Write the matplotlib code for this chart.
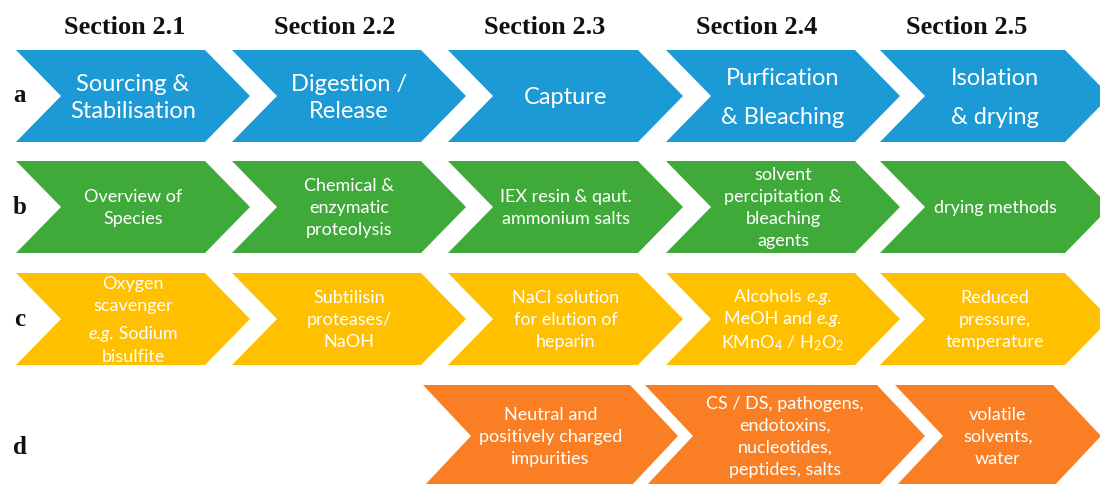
import matplotlib
matplotlib.use("Agg")
import matplotlib.pyplot as plt
from matplotlib.patches import Polygon
from matplotlib.offsetbox import TextArea, HPacker, AnnotationBbox

plt.rcParams['mathtext.fontset'] = 'custom'
plt.rcParams['mathtext.rm'] = 'Lato'
plt.rcParams['mathtext.it'] = 'Lato:italic'

# ---------------- data ----------------
sections = ["Section 2.1", "Section 2.2", "Section 2.3", "Section 2.4", "Section 2.5"]
row_labels = ["a", "b", "c", "d"]

# "\n\n" = paragraph gap, text between * * is italic
row_a = ["Sourcing &\nStabilisation", "Digestion /\nRelease", "Capture",
         "Purfication\n\n& Bleaching", "Isolation\n\n& drying"]
row_b = ["Overview of\nSpecies", "Chemical &\nenzymatic\nproteolysis",
         "IEX resin & qaut.\nammonium salts",
         "solvent\npercipitation &\nbleaching\nagents", "drying methods"]
row_c = ["Oxygen\nscavenger\n\n*e.g.* Sodium\nbisulfite",
         "Subtilisin\nproteases/\nNaOH",
         "NaCl solution\nfor elution of\nheparin",
         "Alcohols *e.g.*\nMeOH and *e.g.*\nKMnO$_4$ / H$_2$O$_2$",
         "Reduced\npressure,\ntemperature"]
row_d = ["Neutral and\npositively charged\nimpurities",
         "CS / DS, pathogens,\nendotoxins,\nnucleotides,\npeptides, salts",
         "volatile\nsolvents,\nwater"]

row_colors = ["#1C9AD6", "#3FAA3A", "#FFC000", "#FA7F24"]

# ---------------- layout (pixel coordinates) ----------------
W, H = 1100, 484
fig = plt.figure(figsize=(W / 100, H / 100), dpi=100)
ax = fig.add_axes([0, 0, 1, 1])
ax.set_xlim(0, W)
ax.set_ylim(H, 0)
ax.axis("off")


def chevron(x0, x1, y0, y1, depth, color, notch=True):
    ym = (y0 + y1) / 2
    pts = [(x0, y0), (x1, y0), (x1 + depth, ym), (x1, y1), (x0, y1)]
    if notch:
        pts.append((x0 + depth, ym))
    ax.add_patch(Polygon(pts, closed=True, facecolor=color, edgecolor="none"))


def draw_line(cx, y, line, fs):
    parts = line.split("*")
    if len(parts) == 1:
        ax.text(cx, y, line, color="white", fontsize=fs, family="Lato",
                ha="center", va="center_baseline")
        return
    boxes = []
    for k, p in enumerate(parts):
        if not p:
            continue
        boxes.append(TextArea(p, textprops=dict(color="white", fontsize=fs,
                                                family="Lato",
                                                style="italic" if k % 2 else "normal")))
    pack = HPacker(children=boxes, align="baseline", pad=0, sep=0)
    ab = AnnotationBbox(pack, (cx, y), xycoords="data", frameon=False,
                        box_alignment=(0.5, 0.55), pad=0)
    ax.add_artist(ab)


def draw_block(cx, cy, text, fs, pitch, gap):
    lines = text.split("\n")
    ys = []
    y = 0.0
    first = True
    for ln in lines:
        if ln == "":
            y += gap
            continue
        if not first:
            y += pitch
        ys.append((y, ln))
        first = False
    total = ys[-1][0]
    for yy, ln in ys:
        draw_line(cx, cy - total / 2 + yy, ln, fs)


# rows a-c
lefts = [16, 232, 448, 666, 880]
rights = [205, 421, 638, 855, 1065]
row_y = [(50, 142), (161, 253), (273, 365)]
text_cy = [96, 206.5, 318.5]
depth = 45
texts = [row_a, row_b, row_c]
fsizes = [17, 13, 13]
pitches = [27, 22, 22]
gaps = [12, 0, 7]

for r in range(3):
    y0, y1 = row_y[r]
    for i in range(5):
        chevron(lefts[i], rights[i], y0, y1, depth, row_colors[r])
        cx = (lefts[i] + depth + rights[i]) / 2
        draw_block(cx, text_cy[r], texts[r][i], fsizes[r], pitches[r], gaps[r])

# row d
d_lefts = [423, 645, 895]
d_rights = [630, 877, 1053]
d_y = (385, 487)
d_depth = 48
for i in range(3):
    chevron(d_lefts[i], d_rights[i], d_y[0], d_y[1], d_depth, row_colors[3])
    cx = (d_lefts[i] + d_depth + d_rights[i]) / 2
    draw_block(cx, 435.5, row_d[i], 13, 22, 0)

# headers
header_x = [125, 335, 545, 757, 967]
for x, s in zip(header_x, sections):
    ax.text(x, 28, s, fontsize=19, fontweight="bold", family="Liberation Serif",
            ha="center", va="center", color="#111111")

# row labels
label_y = [95, 207, 320, 447]
for lab, y in zip(row_labels, label_y):
    ax.text(20, y, lab, fontsize=18, fontweight="bold", family="Liberation Serif",
            ha="center", va="center", color="#111111")

fig.savefig("out.png", dpi=100)
